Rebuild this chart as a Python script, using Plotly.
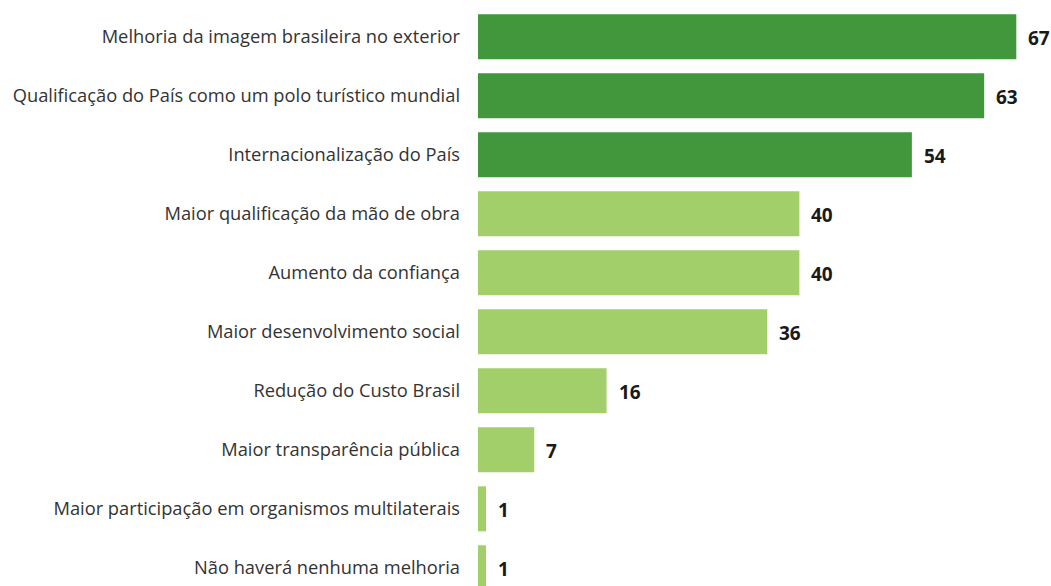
import plotly.graph_objects as go

categories = [
    "Melhoria da imagem brasileira no exterior",
    "Qualificação do País como um polo turístico mundial",
    "Internacionalização do País",
    "Maior qualificação da mão de obra",
    "Aumento da confiança",
    "Maior desenvolvimento social",
    "Redução do Custo Brasil",
    "Maior transparência pública",
    "Maior participação em organismos multilaterais",
    "Não haverá nenhuma melhoria",
]
values = [67, 63, 54, 40, 40, 36, 16, 7, 1, 1]
groups = ["top", "top", "top", "rest", "rest", "rest", "rest", "rest", "rest", "rest"]

DARK = "#42963c"
LIGHT = "#a2cf69"
colors = [DARK if g == "top" else LIGHT for g in groups]

fig = go.Figure()
fig.add_trace(go.Bar(
    x=values,
    y=categories,
    orientation="h",
    marker=dict(color=colors, line=dict(width=0)),
    hoverinfo="x+y",
))

for c, v in zip(categories, values):
    fig.add_annotation(
        x=v, y=c, text=str(v), showarrow=False,
        xanchor="left", yanchor="middle", xshift=10, yshift=-1,
        font=dict(family="Open Sans", size=19, color="#1a1a1a", weight="bold"),
    )

fig.update_layout(
    width=1051, height=586,
    margin=dict(l=478, r=13, t=0, b=0),
    paper_bgcolor="white", plot_bgcolor="white",
    bargap=0.237,
    showlegend=False,
    font=dict(family="Open Sans", size=18, color="#333333"),
)
fig.update_xaxes(range=[0, 69.7], visible=False, showgrid=False, zeroline=False)
fig.update_yaxes(
    type="category",
    categoryorder="array", categoryarray=categories,
    range=[9.308, -0.624],
    showgrid=False, zeroline=False, showline=False, ticks="",
    ticklabelstandoff=17,
    tickfont=dict(family="Open Sans", size=18.3, color="#333333"),
)

fig.write_html(
    "out.html",
    config={"displayModeBar": False},
    post_script="document.body.style.margin='0';document.body.style.padding='0';",
)
